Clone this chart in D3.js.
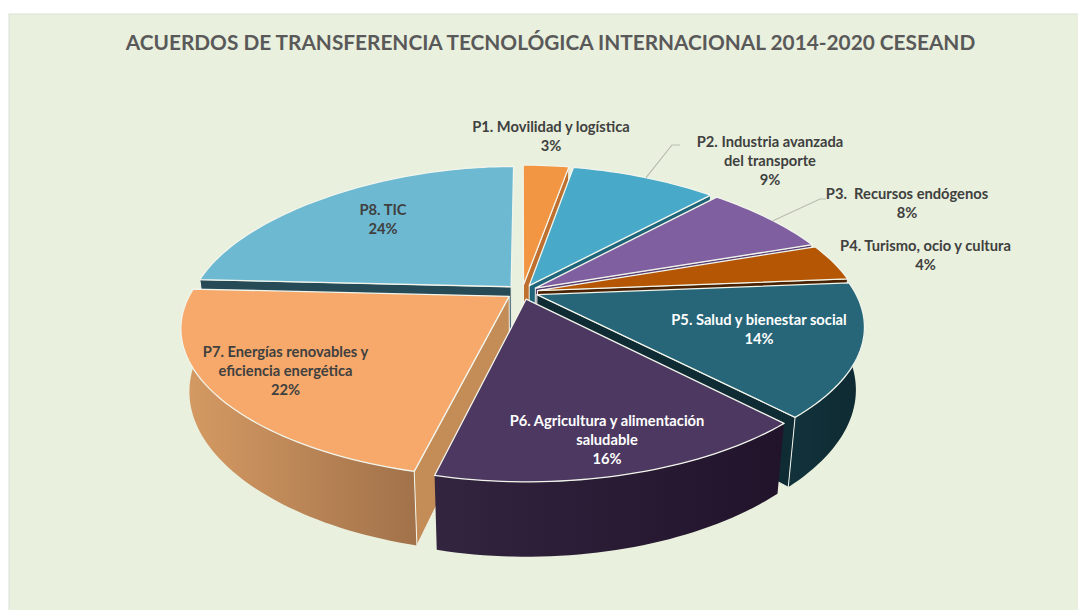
<!DOCTYPE html>
<html>
<head>
<meta charset="utf-8">
<script src="https://cdnjs.cloudflare.com/ajax/libs/d3/7.8.5/d3.min.js"></script>
<style>
  html, body { margin: 0; padding: 0; background: #fff; }
  svg { display: block; }
  text { font-family: Lato, Carlito, "Open Sans", sans-serif; font-weight: 700; white-space: pre; }
</style>
</head>
<body>
<div id="chart"></div>
<script>
// ACUERDOS DE TRANSFERENCIA TECNOLOGICA - exploded 3D pie
const title = "ACUERDOS DE TRANSFERENCIA TECNOLÓGICA INTERNACIONAL 2014-2020 CESEAND";
const categories = [
    "P1. Movilidad y logística",
    "P2. Industria avanzada del transporte",
    "P3.  Recursos endógenos",
    "P4. Turismo, ocio y cultura",
    "P5. Salud y bienestar social",
    "P6. Agricultura y alimentación saludable",
    "P7. Energías renovables y eficiencia energética",
    "P8. TIC"
];
// labels are rounded, the slices are read a bit finer off the picture
const values = [3, 9.2, 7.6, 3.9, 14.2, 15.9, 22, 24.2];

// colours per slice
const topColors = ["#f39644", "#48a9c8", "#7f5fa0", "#b45604", "#266678", "#4c3860", "#f6a96a", "#6db9d1"];
const sideColors = ["#c0702e", "#1f6479", "#5a4075", "#4a2202", "#0f2b33", "#2a1c38", "#c48d58", "#264b57"];
const wallLeft = ["#c0702e", "#1f6479", "#5a4075", "#7a3a02", "#12323b", "#33243f", "#d69b64", "#264b57"];
const wallRight = ["#c0702e", "#1f6479", "#5a4075", "#7a3a02", "#0e2931", "#20132a", "#a2724a", "#264b57"];

const width = 1078, height = 610;
const svg = d3.select("#chart").append("svg")
    .attr("width", width)
    .attr("height", height);

svg.append("rect")
    .attr("x", 9).attr("y", 14)
    .attr("width", width + 10).attr("height", height + 10)
    .attr("fill", "#e9f0dd")
    .attr("stroke", "#dcdfd8");

svg.append("text")
    .attr("x", 550.5).attr("y", 49.5)
    .attr("text-anchor", "middle")
    .attr("font-size", "20.8px")
    .attr("fill", "#595959")
    .text(title);

// flat pie angles -> screen, with a cheap perspective (far side smaller)
const cx = 522, cy = 292, rx = 318, ry = 145, depth = 60;
const explode = 0.05;

function project(u, v, z) {
    const sx = 1 + 0.225 * v;
    const sy = 1 / (1 - 0.19 * v);
    const shrink = z ? 0.975 : 1;
    return [
        cx + rx * u * sx * shrink,
        cy + ry * v * sy + (z ? depth * sy : 0)
    ];
}

const pie = d3.pie().sort(null).value((d) => d);
const slices = pie(values).map((d, i) => {
    const mid = (d.startAngle + d.endAngle) / 2;
    return {
        i: i,
        a0: d.startAngle,
        a1: d.endAngle,
        ox: explode * Math.sin(mid),
        oy: -explode * Math.cos(mid)
    };
});

function rimPoint(s, a, z) {
    return project(s.ox + Math.sin(a), s.oy - Math.cos(a), z);
}
function apex(s, z) {
    return project(s.ox, s.oy, z);
}
function rim(s, a0, a1, z) {
    const n = Math.max(4, Math.ceil((a1 - a0) * 40));
    return d3.range(n + 1).map((k) => rimPoint(s, a0 + (a1 - a0) * k / n, z));
}

const line = d3.line();
const closed = (pts) => line(pts) + "Z";

const defs = svg.append("defs");
const edge = "#f2f5ec";

// back slices first, front ones paint over them
const order = slices.slice().sort((a, b) => a.oy - b.oy);

order.forEach((s) => {
    const g = svg.append("g");
    const top = rim(s, s.a0, s.a1, false);

    // outer wall, front half of the circle only
    const w0 = Math.max(s.a0, Math.PI / 2);
    const w1 = Math.min(s.a1, Math.PI * 1.5);
    if (w1 > w0) {
        const wTop = rim(s, w0, w1, false);
        const wBottom = rim(s, w0, w1, true);
        const gradId = "wall" + s.i;
        const grad = defs.append("linearGradient")
            .attr("id", gradId)
            .attr("gradientUnits", "userSpaceOnUse")
            .attr("x1", d3.min(wTop, (p) => p[0]))
            .attr("x2", d3.max(wTop, (p) => p[0]))
            .attr("y1", 0).attr("y2", 0);
        grad.append("stop").attr("offset", "0%").attr("stop-color", wallLeft[s.i]);
        grad.append("stop").attr("offset", "100%").attr("stop-color", wallRight[s.i]);

        g.append("path")
            .attr("d", closed(wTop.concat(wBottom.slice().reverse())))
            .attr("fill", `url(#${gradId})`)
            .attr("stroke", "none");
    }

    // cut faces, only the ones turned towards the viewer
    if (Math.sin(s.a0) < 0) drawCut(g, s, s.a0);
    if (Math.sin(s.a1) > 0) drawCut(g, s, s.a1);

    // top face
    g.append("path")
        .attr("d", closed([apex(s, false)].concat(top)))
        .attr("fill", topColors[s.i])
        .attr("stroke", edge)
        .attr("stroke-width", 1.3)
        .attr("stroke-linejoin", "round");
});

function drawCut(g, s, a) {
    g.append("path")
        .attr("d", closed([apex(s, false), rimPoint(s, a, false), rimPoint(s, a, true), apex(s, true)]))
        .attr("fill", sideColors[s.i])
        .attr("stroke", edge)
        .attr("stroke-width", 1);
}

// leader lines from the rim to the two outside labels
const leaders = [
    { slice: 1, frac: 0.52, pts: [[672, 145], [680, 145]] },
    { slice: 2, frac: 0.55, pts: [[820, 199], [826, 199]] }
];
leaders.forEach((l) => {
    const s = slices[l.slice];
    const start = rimPoint(s, s.a0 + (s.a1 - s.a0) * l.frac, false);
    svg.append("path")
        .attr("d", line([start].concat(l.pts)))
        .attr("fill", "none")
        .attr("stroke", "#b9bdb0")
        .attr("stroke-width", 1.2);
});

// label lines, split by hand like the original
const labelLines = [
    ["P1. Movilidad y logística", "3%"],
    ["P2. Industria avanzada", "del transporte", "9%"],
    ["P3.  Recursos endógenos", "8%"],
    ["P4. Turismo, ocio y cultura", "4%"],
    ["P5. Salud y bienestar social", "14%"],
    ["P6. Agricultura y alimentación", "saludable", "16%"],
    ["P7. Energías renovables y", "eficiencia energética", "22%"],
    ["P8. TIC", "24%"]
];
const labelAt = [[551, 132], [770, 147], [907, 199], [925.5, 251], [759, 325], [607, 426], [285.5, 357], [383, 215]];
const labelFill = ["#404040", "#404040", "#404040", "#404040", "#ffffff", "#ffffff", "#404040", "#404040"];

labelLines.forEach((lines, i) => {
    const t = svg.append("text")
        .attr("text-anchor", "middle")
        .attr("font-size", "14.7px")
        .attr("fill", labelFill[i]);
    lines.forEach((txt, k) => {
        t.append("tspan")
            .attr("x", labelAt[i][0])
            .attr("y", labelAt[i][1] + k * 19)
            .text(txt);
    });
});
</script>
</body>
</html>
